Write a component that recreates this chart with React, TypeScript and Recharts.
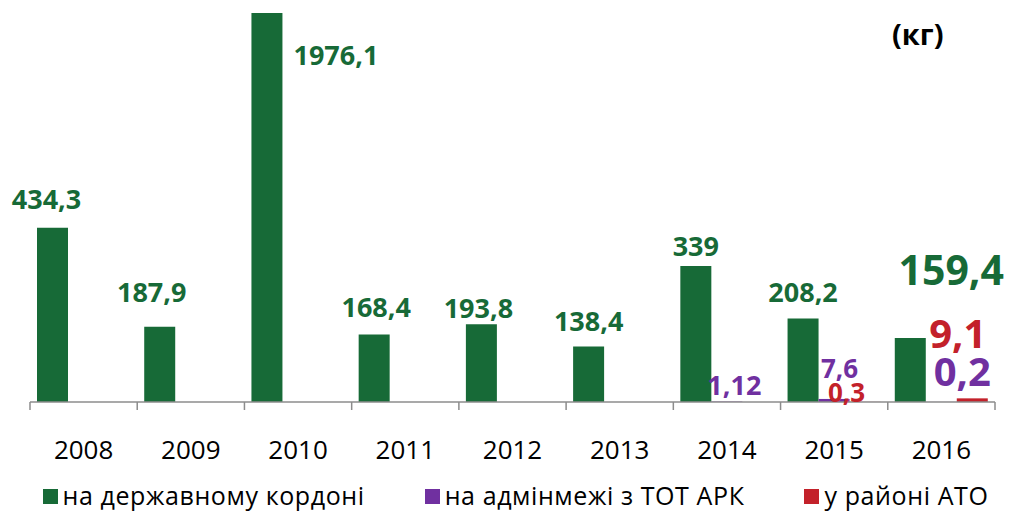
import React from 'react';
import { BarChart, Bar, XAxis, YAxis, LabelList, Legend } from 'recharts';

// ---- data ----
const years = ['2008', '2009', '2010', '2011', '2012', '2013', '2014', '2015', '2016'];
const borderValues = [434.3, 187.9, 1976.1, 168.4, 193.8, 138.4, 339, 208.2, 159.4];
const adminLineValues: (number | null)[] = [null, null, null, null, null, null, 1.12, 7.6, 0.2];
const atoValues: (number | null)[] = [null, null, null, null, null, null, null, 0.3, 9.1];
const seriesNames = ['на державному кордоні', 'на адмінмежі з ТОТ АРК', 'у районі АТО'];
const unitLabel = '(кг)';

// ---- styles ----
const GREEN = '#176a37';
const PURPLE = '#7030a0';
const RED = '#c3212a';
const AXIS = '#8c8c8c';
const FONT = "'Open Sans', 'DejaVu Sans', sans-serif";
const Y_MAX = 970;
const W = 1011;
const H = 511;
const MARGIN = { top: 13, right: 16, bottom: 69, left: 30 };

type LStyle = { dx: number; lift: number; size: number };
// label placement tweaks (per category index): dx from bar centre, lift above bar top / baseline, font size
const greenLabelStyle: Record<number, LStyle> = {
  0: { dx: -6, lift: 19, size: 27 },
  1: { dx: -8, lift: 25, size: 27 },
  3: { dx: 2, lift: 17, size: 27 },
  4: { dx: -3, lift: 6, size: 27 },
  5: { dx: 0, lift: 15, size: 27 },
  6: { dx: 0, lift: 10, size: 27 },
  7: { dx: 0, lift: 17, size: 27 },
  8: { dx: 41, lift: 53, size: 41 },
};
const purpleLabelStyle: Record<number, LStyle> = {
  6: { dx: 7.5, lift: 7, size: 27 },
  7: { dx: 5.5, lift: 24, size: 26 },
  8: { dx: 21, lift: 16, size: 40 },
};
const redLabelStyle: Record<number, LStyle> = {
  7: { dx: -18.5, lift: 0, size: 26 },
  8: { dx: -14.5, lift: 54, size: 40 },
};

const data = years.map((year, i) => ({
  year,
  border: borderValues[i],
  admin: adminLineValues[i],
  ato: atoValues[i],
}));

const fmt = (v: number) => String(v).replace('.', ',');

const getBox = (props: any) => {
  const vb = props.viewBox && props.viewBox.width != null ? props.viewBox : props;
  return { x: Number(vb.x), y: Number(vb.y), w: Number(vb.width), h: Number(vb.height) };
};

const categoryIndex = (props: any, values: (number | null)[]) => {
  const y = props.payload && props.payload.year;
  if (y != null) {
    const k = years.indexOf(String(y));
    if (k >= 0) return k;
  }
  const k = values.indexOf(Number(props.value));
  return k >= 0 ? k : props.index;
};

const GreenLabel = (props: any) => {
  const { value } = props;
  if (value == null) return null;
  const index = categoryIndex(props, borderValues);
  const { x, y, w, h } = getBox(props);
  if (value > Y_MAX) {
    return (
      <text x={x + w + 11} y={MARGIN.top + 52} textAnchor="start" fill={GREEN}
        fontFamily={FONT} fontWeight={700} fontSize={27}>{fmt(value)}</text>
    );
  }
  const st = greenLabelStyle[index] || { dx: 0, lift: 15, size: 27 };
  const top = Math.min(y, y + h);
  return (
    <text x={x + w / 2 + st.dx} y={top - st.lift} textAnchor="middle" fill={GREEN}
      fontFamily={FONT} fontWeight={700} fontSize={st.size}>{fmt(value)}</text>
  );
};

const makeSmallLabel = (color: string, styles: Record<number, LStyle>, values: (number | null)[]) =>
  (props: any) => {
    const { value } = props;
    if (value == null) return null;
    const index = categoryIndex(props, values);
    const st = styles[index];
    if (!st) return null;
    const { x, y, w, h } = getBox(props);
    const base = Math.max(y, y + h);
    return (
      <text x={x + w / 2 + st.dx} y={base - st.lift} textAnchor="middle" fill={color}
        fontFamily={FONT} fontWeight={700} fontSize={st.size}>{fmt(value)}</text>
    );
  };

const PurpleLabel = makeSmallLabel(PURPLE, purpleLabelStyle, adminLineValues);
const RedLabel = makeSmallLabel(RED, redLabelStyle, atoValues);

const AxisTick = (props: any) => {
  const { x, y, payload, index, visibleTicksCount, width } = props;
  const half = payload && payload.offset != null && payload.offset > 0
    ? payload.offset
    : Number(width) / (visibleTicksCount || 9) / 2;
  return (
    <g>
      <line x1={x - half} x2={x - half} y1={y - 8} y2={y} stroke={AXIS} strokeWidth={1.5} />
      {index === visibleTicksCount - 1 && (
        <line x1={x + half} x2={x + half} y1={y - 8} y2={y} stroke={AXIS} strokeWidth={1.5} />
      )}
      <text x={x} y={y + 49} textAnchor="middle" fill="#000" fontFamily={FONT} fontSize={26}>
        {payload.value}
      </text>
    </g>
  );
};

const legendColors = [GREEN, PURPLE, RED];

const LegendContent = () => (
  <div style={{ display: 'flex', justifyContent: 'center', gap: 60, paddingLeft: 20, fontFamily: FONT, fontSize: 25, letterSpacing: 0.6, lineHeight: '28px', color: '#000' }}>
    {seriesNames.map((name, i) => (
      <div key={name} style={{ display: 'flex', alignItems: 'center' }}>
        <span style={{ display: 'inline-block', width: 15, height: 15, background: legendColors[i], marginRight: 5, marginTop: 2 }} />
        <span>{name}</span>
      </div>
    ))}
  </div>
);

export default function App() {
  return (
    <div style={{ position: 'absolute', left: 0, top: 0, width: W, height: H, background: '#fff' }}>
      <BarChart width={W} height={H} data={data} margin={MARGIN} barSize={31} barGap={0}>
        <XAxis
          dataKey="year"
          interval={0}
          height={40}
          tickSize={8}
          tickMargin={0}
          tickLine={false}
          axisLine={{ stroke: AXIS, strokeWidth: 1.5 }}
          tick={(p: any) => <AxisTick {...p} />}
        />
        <YAxis hide domain={[0, Y_MAX]} allowDataOverflow />
        <Legend
          layout="horizontal"
          verticalAlign="middle"
          align="center"
          wrapperStyle={{ top: 481, left: 0, width: W }}
          content={() => <LegendContent />}
        />
        <Bar dataKey="border" name={seriesNames[0]} fill={GREEN} isAnimationActive={false}>
          <LabelList dataKey="border" content={(p: any) => <GreenLabel {...p} />} />
        </Bar>
        <Bar dataKey="admin" name={seriesNames[1]} fill={PURPLE} isAnimationActive={false}>
          <LabelList dataKey="admin" content={(p: any) => <PurpleLabel {...p} />} />
        </Bar>
        <Bar dataKey="ato" name={seriesNames[2]} fill={RED} isAnimationActive={false}>
          <LabelList dataKey="ato" content={(p: any) => <RedLabel {...p} />} />
        </Bar>
      </BarChart>
      <div style={{ position: 'absolute', left: 892, top: 14, fontFamily: FONT, fontWeight: 700, fontSize: 29, lineHeight: '40px', color: '#000' }}>
        {unitLabel}
      </div>
    </div>
  );
}
